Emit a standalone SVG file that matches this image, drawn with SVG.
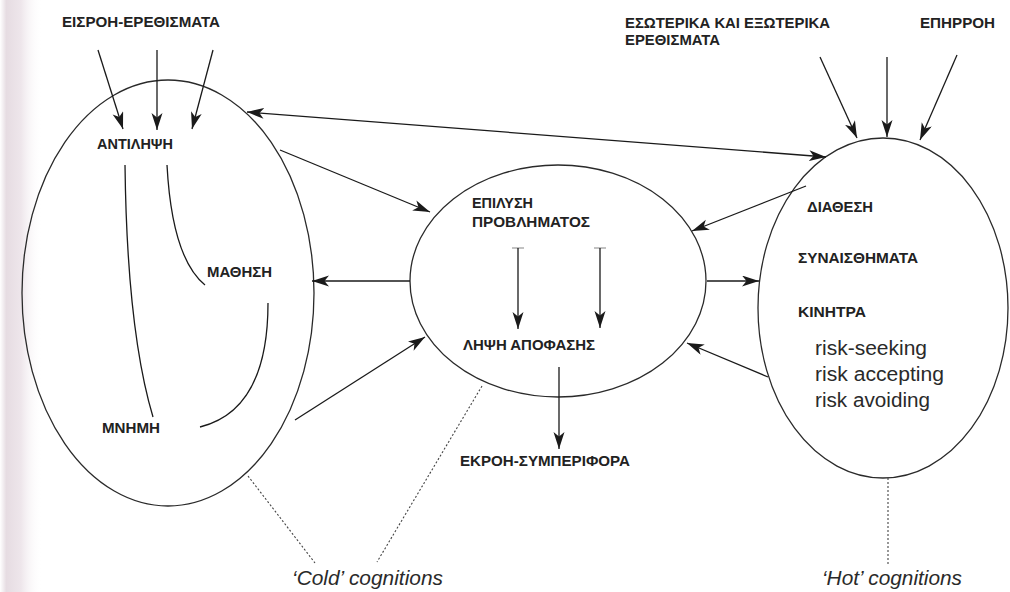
<svg xmlns="http://www.w3.org/2000/svg" width="1010" height="592" viewBox="0 0 1010 592">
<defs>
<linearGradient id="edge" x1="0" y1="0" x2="1" y2="0">
<stop offset="0" stop-color="#ffffff"/>
<stop offset="0.15" stop-color="#e6dce2"/>
<stop offset="0.5" stop-color="#eee6eb"/>
<stop offset="1" stop-color="#ffffff" stop-opacity="0"/>
</linearGradient>
<marker id="ah" markerUnits="userSpaceOnUse" markerWidth="18" markerHeight="12" refX="17" refY="5.5" orient="auto-start-reverse">
<path d="M0,0 L17,5.5 L0,11 L4.5,5.5 Z" fill="#1a1a1a"/>
</marker>
<style>
.lbl{font-family:"Liberation Sans",Arial,sans-serif;font-weight:bold;font-size:14.5px;fill:#222;}
.risk{font-family:"Liberation Sans",Arial,sans-serif;font-size:20px;fill:#2a2a2a;}
.cog{font-family:"Liberation Sans",Arial,sans-serif;font-style:italic;font-size:21px;fill:#2a2a2a;}
.ell{fill:none;stroke:#2a2a2a;stroke-width:1.3;}
.con{fill:none;stroke:#1a1a1a;stroke-width:1.3;}
.arr{fill:none;stroke:#1a1a1a;stroke-width:1.3;marker-end:url(#ah);}
.dot{fill:none;stroke:#444;stroke-width:1.1;stroke-dasharray:2 2;}
.tb{fill:none;stroke:#999;stroke-width:1.2;}
</style>
</defs>
<rect width="1010" height="592" fill="#ffffff"/>
<rect x="0" y="0" width="42" height="592" fill="url(#edge)"/>

<g id="cold-left">
<ellipse class="ell" cx="168" cy="293" rx="146" ry="213"/>
<text class="lbl" x="97" y="149" textLength="76" lengthAdjust="spacingAndGlyphs">ΑΝΤΙΛΗΨΗ</text>
<text class="lbl" x="207" y="277" textLength="65" lengthAdjust="spacingAndGlyphs">ΜΑΘΗΣΗ</text>
<text class="lbl" x="102" y="433" textLength="58" lengthAdjust="spacingAndGlyphs">ΜΝΗΜΗ</text>
<path class="con" d="M125,165 Q127,330 153,417"/>
<path class="con" d="M167,165 Q172,258 205,285"/>
<path class="con" d="M268,303 Q268,410 200,427"/>
</g>

<g id="cold-middle">
<ellipse class="ell" cx="558" cy="281" rx="148" ry="116"/>
<text class="lbl" x="472" y="208" textLength="61" lengthAdjust="spacingAndGlyphs">ΕΠΙΛΥΣΗ</text>
<text class="lbl" x="472" y="227" textLength="118" lengthAdjust="spacingAndGlyphs">ΠΡΟΒΛΗΜΑΤΟΣ</text>
<text class="lbl" x="463" y="350" textLength="132" lengthAdjust="spacingAndGlyphs">ΛΗΨΗ ΑΠΟΦΑΣΗΣ</text>
</g>

<g id="hot-right">
<ellipse class="ell" cx="883" cy="308" rx="125" ry="170"/>
<text class="lbl" x="807" y="212" textLength="66" lengthAdjust="spacingAndGlyphs">ΔΙΑΘΕΣΗ</text>
<text class="lbl" x="798" y="263" textLength="120" lengthAdjust="spacingAndGlyphs">ΣΥΝΑΙΣΘΗΜΑΤΑ</text>
<text class="lbl" x="798" y="317" textLength="68" lengthAdjust="spacingAndGlyphs">ΚΙΝΗΤΡΑ</text>
<text class="risk" x="815" y="355" textLength="112" lengthAdjust="spacingAndGlyphs">risk-seeking</text>
<text class="risk" x="815" y="381" textLength="129" lengthAdjust="spacingAndGlyphs">risk accepting</text>
<text class="risk" x="815" y="407" textLength="115" lengthAdjust="spacingAndGlyphs">risk avoiding</text>
</g>

<g id="input-label">
<text class="lbl" x="62" y="27" textLength="158" lengthAdjust="spacingAndGlyphs">ΕΙΣΡΟΗ-ΕΡΕΘΙΣΜΑΤΑ</text>
</g>
<g id="stimuli-label">
<text class="lbl" x="625" y="28" textLength="205" lengthAdjust="spacingAndGlyphs">ΕΣΩΤΕΡΙΚΑ ΚΑΙ ΕΞΩΤΕΡΙΚΑ</text>
<text class="lbl" x="625" y="45" textLength="95" lengthAdjust="spacingAndGlyphs">ΕΡΕΘΙΣΜΑΤΑ</text>
</g>
<g id="influence-label">
<text class="lbl" x="920" y="28" textLength="75" lengthAdjust="spacingAndGlyphs">ΕΠΗΡΡΟΗ</text>
</g>
<g id="output-label">
<text class="lbl" x="460" y="466" textLength="170" lengthAdjust="spacingAndGlyphs">ΕΚΡΟΗ-ΣΥΜΠΕΡΙΦΟΡΑ</text>
</g>
<g id="cold-caption">
<text class="cog" x="292" y="585" textLength="151" lengthAdjust="spacingAndGlyphs">‘Cold’ cognitions</text>
</g>
<g id="hot-caption">
<text class="cog" x="822" y="585" textLength="140" lengthAdjust="spacingAndGlyphs">‘Hot’ cognitions</text>
</g>

<g id="connectors">
<line class="arr" x1="98" y1="50" x2="123" y2="129"/>
<line class="arr" x1="157" y1="50" x2="157" y2="130"/>
<line class="arr" x1="213" y1="50" x2="192" y2="129"/>
<line class="arr" x1="820" y1="57" x2="857" y2="138"/>
<line class="arr" x1="887" y1="57" x2="887" y2="137"/>
<line class="arr" x1="957" y1="55" x2="920" y2="140"/>
<line class="arr" x1="247" y1="112" x2="826" y2="157" marker-start="url(#ah)"/>
<line class="arr" x1="280" y1="150" x2="430" y2="212"/>
<line class="arr" x1="410" y1="281" x2="312" y2="281"/>
<line class="arr" x1="295" y1="420" x2="425" y2="337"/>
<line class="arr" x1="806" y1="186" x2="692" y2="231"/>
<line class="arr" x1="707" y1="281" x2="759" y2="281"/>
<line class="arr" x1="768" y1="377" x2="687" y2="343"/>
<line class="tb" x1="512" y1="248" x2="524" y2="248"/>
<line class="tb" x1="594" y1="248" x2="606" y2="248"/>
<line class="arr" x1="518" y1="248" x2="518" y2="329"/>
<line class="arr" x1="600" y1="248" x2="600" y2="328"/>
<line class="arr" x1="559" y1="367" x2="559" y2="449"/>
<line class="dot" x1="248" y1="476" x2="315" y2="563"/>
<line class="dot" x1="482" y1="386" x2="377" y2="562"/>
<line class="dot" x1="888" y1="478" x2="888" y2="565"/>
</g>
</svg>
